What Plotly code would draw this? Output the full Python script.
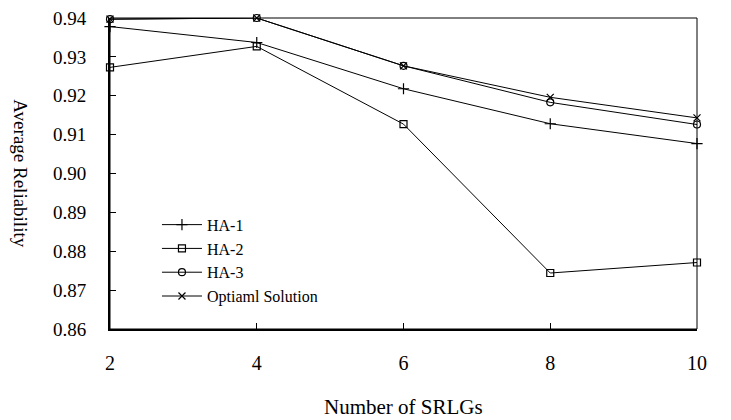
import plotly.graph_objects as go

srlgs = [2, 4, 6, 8, 10]
ha1 = [0.9378, 0.9337, 0.9218, 0.9128, 0.9077]
ha2 = [0.9273, 0.9327, 0.9127, 0.8744, 0.8771]
ha3 = [0.9397, 0.9400, 0.9277, 0.9183, 0.9126]
opt = [0.9397, 0.9400, 0.9277, 0.9196, 0.9143]
y_ticks = [0.86, 0.87, 0.88, 0.89, 0.90, 0.91, 0.92, 0.93, 0.94]
y_tick_text = ["0.86", "0.87", "0.88", "0.89", "0.90", "0.91", "0.92", "0.93", "0.94"]
x_ticks = [2, 4, 6, 8, 10]

FONT = "Liberation Serif"

series = [
    ("HA-1", ha1, "cross-thin-open", 8),
    ("HA-2", ha2, "square-open", 7),
    ("HA-3", ha3, "circle-open", 7),
    ("Optiaml Solution", opt, "x-thin-open", 7),
]

fig = go.Figure()
for name, vals, sym, size in series:
    fig.add_trace(go.Scatter(
        x=srlgs, y=vals, name=name, mode="lines+markers",
        line=dict(color="black", width=1),
        marker=dict(symbol=sym, size=size, color="black",
                    line=dict(color="black", width=1.2)),
        cliponaxis=False,
    ))

fig.update_layout(
    width=723, height=412,
    margin=dict(l=102, r=34, t=10, b=91, autoexpand=False),
    paper_bgcolor="white", plot_bgcolor="white",
    font=dict(family=FONT, color="black", size=19),
    showlegend=True,
    legend=dict(x=0.08, y=0.39, xanchor="left", yanchor="top",
                bgcolor="rgba(0,0,0,0)", font=dict(size=16, family=FONT),
                itemwidth=40, tracegroupgap=0),
    xaxis=dict(range=[2, 10], tickvals=x_ticks, showgrid=False, zeroline=False,
               showline=True, linecolor="black", linewidth=2, automargin=False,
               ticks="inside", ticklen=6, tickcolor="black", tickwidth=1,
               ticklabelstandoff=15, ticklabeloverflow="allow",
               tickfont=dict(size=20, family=FONT)),
    yaxis=dict(range=[0.8599999, 0.9400001], tickvals=y_ticks, ticktext=y_tick_text,
               showgrid=False, zeroline=False, automargin=False,
               showline=True, linecolor="black", linewidth=2,
               ticks="inside", ticklen=6, tickcolor="black", tickwidth=1,
               ticklabelstandoff=18, ticklabeloverflow="allow",
               tickfont=dict(size=19, family=FONT)),
    shapes=[dict(type="rect", xref="paper", yref="paper", x0=0, x1=1, y0=0, y1=1,
                 line=dict(color="black", width=1), layer="above")],
    annotations=[
        dict(text="Number of SRLGs", xref="paper", yref="paper", x=0.5, y=-0.25,
             xanchor="center", yanchor="middle", showarrow=False,
             font=dict(size=21, family=FONT)),
        dict(text="Average Reliability", xref="paper", yref="paper", x=-0.153, y=0.5,
             xanchor="center", yanchor="middle", showarrow=False, textangle=90,
             font=dict(size=19, family=FONT)),
    ],
)

fig.write_html("out.html")
